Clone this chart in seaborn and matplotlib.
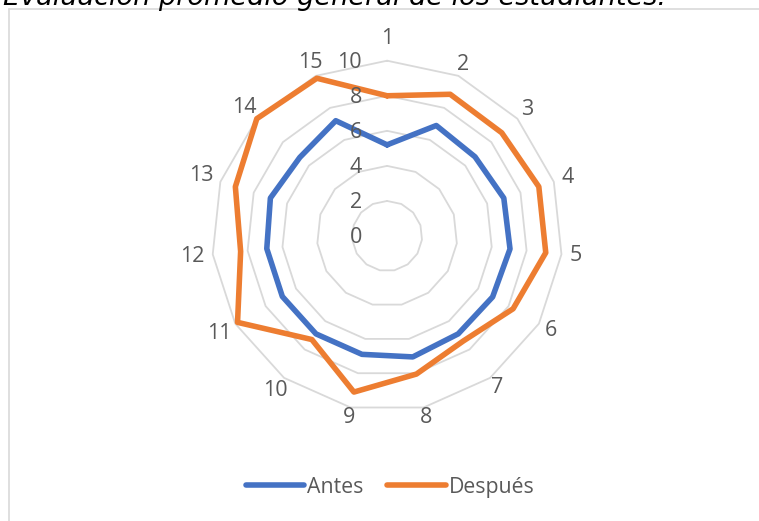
import numpy as np
import pandas as pd
import matplotlib.pyplot as plt
import seaborn as sns
from matplotlib.lines import Line2D

# datos
categorias = [str(i) for i in range(1, 16)]
antes = [5.2, 6.9, 6.75, 7.0, 7.05, 6.95, 6.9, 7.05, 6.9, 6.9, 6.9, 6.9, 7.0, 6.7, 7.2]
despues = [8.0, 8.85, 8.8, 9.1, 9.1, 8.3, 7.4, 8.05, 9.1, 7.3, 9.85, 8.4, 9.1, 10.0, 9.85]
anillos = [0, 2, 4, 6, 8, 10]
series = ['Antes', 'Después']
colores = ['#4472C4', '#ED7D31']
titulo = 'Evaluación promedio general de los estudiantes.'

sns.set_theme(style='white')
plt.rcParams['font.family'] = ['Open Sans', 'DejaVu Sans']
gris = '#595959'

n = len(categorias)
theta = np.linspace(0, 2 * np.pi, n, endpoint=False)
theta_c = np.append(theta, 2 * np.pi)

df = pd.concat([
    pd.DataFrame({'theta': theta_c, 'valor': vals + vals[:1], 'serie': nombre})
    for nombre, vals in zip(series, [antes, despues])
], ignore_index=True)

fig = plt.figure(figsize=(7.59, 5.21), dpi=100)
ax = fig.add_axes([0.279, 0.2105, 0.462, 0.673], projection='polar')
ax.set_theta_zero_location('N')
ax.set_theta_direction(-1)
ax.set_ylim(0, 10)
ax.grid(False)
ax.spines['polar'].set_visible(False)
ax.set_xticks([])
ax.set_yticks([])

# anillos poligonales
for r in anillos[1:]:
    ax.plot(theta_c, [r] * len(theta_c), color='#d9d9d9', lw=1.3, clip_on=False, zorder=1)

sns.lineplot(data=df, x='theta', y='valor', hue='serie', palette=colores, sort=False,
             estimator=None, lw=4, ax=ax, zorder=3)
for ln in ax.get_lines():
    ln.set_clip_on(False)
    ln.set_solid_joinstyle('round')
ax.set_xlabel('')
ax.set_ylabel('')

handles, labels = ax.get_legend_handles_labels()
ax.get_legend().remove()

# etiquetas del eje radial
for r in anillos:
    ax.annotate(str(r), xy=(0, r), xytext=(-18, -1), textcoords='offset points',
                ha='right', va='center', fontsize=15.5, color=gris, annotation_clip=False)

# etiquetas de categorias
for t, lab in zip(theta, categorias):
    rr = 10.5 + 0.33 * len(lab) * abs(np.sin(t)) + 0.78 * max(np.cos(t), 0) ** 30
    ax.text(t, rr, lab, ha='center', va='center', fontsize=15.5, color=gris, clip_on=False)

leg = fig.legend(handles, labels, loc='center', bbox_to_anchor=(0.514, 0.065), ncol=2,
                 frameon=False, fontsize=15.3, handlelength=2.75, handletextpad=0.15,
                 columnspacing=1.1, labelcolor=gris)
for h in leg.legend_handles:
    h.set_linewidth(4)
    h.set_solid_capstyle('round')

# marco del area del grafico
fig.add_artist(Line2D([9 / 759, 9 / 759], [0, 1 - 9 / 521], transform=fig.transFigure,
                      color='#d9d9d9', lw=1.2))
fig.add_artist(Line2D([9 / 759, 1], [1 - 9 / 521, 1 - 9 / 521], transform=fig.transFigure,
                      color='#d9d9d9', lw=1.2))

fig.text(3 / 759, 1 - 5 / 521, titulo, ha='left', va='baseline', fontsize=19.5,
         fontstyle='italic', color='black', family=['DejaVu Sans'])

fig.savefig('out.png', dpi=100)
